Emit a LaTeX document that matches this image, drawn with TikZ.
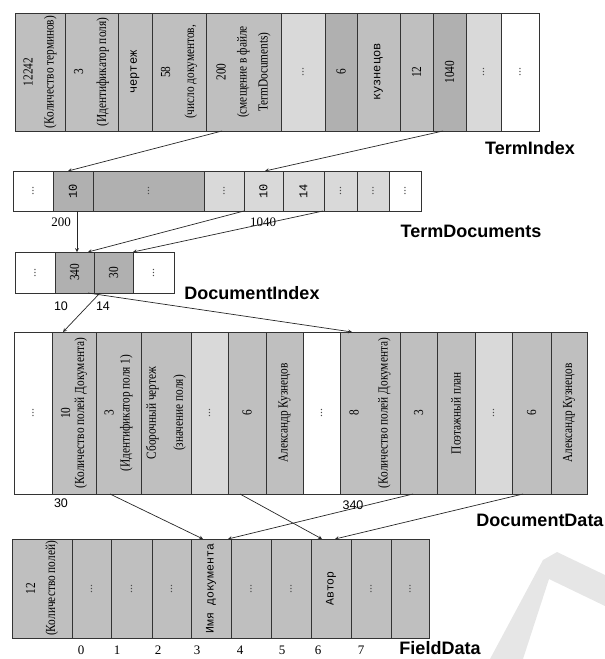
\documentclass[tikz,border=0pt]{standalone}
\usepackage{fontspec}
\setmainfont{Liberation Serif}
\setsansfont{Liberation Sans}
\newfontfamily\cellfont[FakeStretch=0.82]{Liberation Serif}
\newfontfamily\cellmono{Liberation Mono}
\usepackage{tikz}
\usetikzlibrary{calc,positioning}
\definecolor{cellg}{RGB}{191,191,191}
\definecolor{celld}{RGB}{176,176,176}
\definecolor{celll}{RGB}{217,217,217}
\definecolor{wmark}{RGB}{230,230,230}

\begin{document}
\begin{tikzpicture}[x=1pt,y=-1pt,
  cell/.style={draw=black!80,line width=0.8pt,anchor=north west,inner sep=0pt,outer sep=0pt},
  tirow/.style={cell,minimum height=118pt},
  tdrow/.style={cell,minimum height=40pt},
  dirow/.style={cell,minimum height=41pt},
  ddrow/.style={cell,minimum height=162pt},
  fdrow/.style={cell,minimum height=99pt},
  ctext/.style={rotate=90,align=center,inner sep=0pt,font=\cellfont\fontsize{13.8}{21}\selectfont},
  lsp/.style={font=\cellfont\fontsize{13.8}{#1}\selectfont},
  mtext/.style={rotate=90,inner sep=0pt,font=\cellmono\fontsize{12}{14}\selectfont},
  dots/.style={rotate=90,inner sep=0pt,text=black!70,font=\fontsize{12}{14}\selectfont},
  title/.style={inner sep=1pt,font=\sffamily\bfseries\fontsize{18}{20}\selectfont},
  numr/.style={font=\fontsize{13}{15}\selectfont},
  nums/.style={font=\sffamily\fontsize{12.5}{15}\selectfont},
  link/.style={->,>=stealth,draw=black!85,line width=0.7pt}]
\useasboundingbox (0,0) rectangle (605,659);
% watermark
\fill[wmark] (557,552) -- (605,575) -- (605,606) -- (549,579) -- (523,659) -- (490,659) -- (543,560) -- cycle;

% TermIndex
\node[tirow,fill=cellg,minimum width=50pt,label={[ctext]center:{12242\\(Количество терминов)}}] (ti1) at (15,13) {};
\node[tirow,fill=cellg,minimum width=53pt,label={[ctext,lsp=23]center:{3\\(Идентификатор поля)}}] (ti2) at (ti1.north east) {};
\node[tirow,fill=cellg,minimum width=34pt,label={[mtext]center:{чертеж}}] (ti3) at (ti2.north east) {};
\node[tirow,fill=cellg,minimum width=54pt,label={[ctext,lsp=24]center:{58\\(число документов,}}] (ti4) at (ti3.north east) {};
\node[tirow,fill=cellg,minimum width=75pt,label={[ctext]center:{200\\(смещение в файле\\TermDocuments)}}] (ti5) at (ti4.north east) {};
\node[tirow,fill=celll,minimum width=44pt,label={[dots]center:{...}}] (ti6) at (ti5.north east) {};
\node[tirow,fill=celld,minimum width=32pt,label={[ctext]center:{6}}] (ti7) at (ti6.north east) {};
\node[tirow,fill=cellg,minimum width=43pt,label={[mtext]center:{кузнецов}}] (ti8) at (ti7.north east) {};
\node[tirow,fill=cellg,minimum width=33pt,label={[ctext]center:{12}}] (ti9) at (ti8.north east) {};
\node[tirow,fill=celld,minimum width=33pt,label={[ctext]center:{1040}}] (ti10) at (ti9.north east) {};
\node[tirow,fill=celll,minimum width=35pt,label={[dots]center:{...}}] (ti11) at (ti10.north east) {};
\node[tirow,fill=white,minimum width=38pt,label={[dots]center:{...}}] (ti12) at (ti11.north east) {};
\node[title] (tiname) at (530,148) {TermIndex};

% TermDocuments
\node[tdrow,fill=white,minimum width=40pt,label={[dots]center:{...}}] (td1) at (13,171) {};
\node[tdrow,fill=celld,minimum width=40pt,label={[mtext]center:{10}}] (td2) at (td1.north east) {};
\node[tdrow,fill=celld,minimum width=111pt,label={[dots]center:{...}}] (td3) at (td2.north east) {};
\node[tdrow,fill=celll,minimum width=40pt,label={[dots]center:{...}}] (td4) at (td3.north east) {};
\node[tdrow,fill=celll,minimum width=39pt,label={[mtext]center:{10}}] (td5) at (td4.north east) {};
\node[tdrow,fill=celll,minimum width=41pt,label={[mtext]center:{14}}] (td6) at (td5.north east) {};
\node[tdrow,fill=celll,minimum width=33pt,label={[dots]center:{...}}] (td7) at (td6.north east) {};
\node[tdrow,fill=celll,minimum width=32pt,label={[dots]center:{...}}] (td8) at (td7.north east) {};
\node[tdrow,fill=white,minimum width=32pt,label={[dots]center:{...}}] (td9) at (td8.north east) {};
\node[title] (tdname) at (471,231) {TermDocuments};
\node[numr] (o200) at (61,222) {200};
\node[numr] (o1040) at (263,222) {1040};

% DocumentIndex
\node[dirow,fill=white,minimum width=40pt,label={[dots]center:{...}}] (di1) at (15,252) {};
\node[dirow,fill=celld,minimum width=39pt,label={[ctext]center:{340}}] (di2) at (di1.north east) {};
\node[dirow,fill=celld,minimum width=39pt,label={[ctext]center:{30}}] (di3) at (di2.north east) {};
\node[dirow,fill=white,minimum width=41pt,label={[dots]center:{...}}] (di4) at (di3.north east) {};
\node[title] (diname) at (252,293) {DocumentIndex};
\node[nums] (o10) at (61,306) {10};
\node[nums] (o14) at (103,306) {14};

% DocumentData
\node[ddrow,fill=white,minimum width=38pt,label={[dots]center:{...}}] (dd1) at (14,332) {};
\node[ddrow,fill=cellg,minimum width=44pt,label={[ctext,lsp=14]center:{10\\(Количество полей Документа)}}] (dd2) at (dd1.north east) {};
\node[ddrow,fill=cellg,minimum width=45pt,label={[ctext,lsp=16]center:{3\\(Идентификатор поля 1)}}] (dd3) at (dd2.north east) {};
\node[ddrow,fill=cellg,minimum width=50pt,label={[ctext,lsp=27]center:{Сборочный чертеж\\(значение поля)}}] (dd4) at (dd3.north east) {};
\node[ddrow,fill=celll,minimum width=37pt,label={[dots]center:{...}}] (dd5) at (dd4.north east) {};
\node[ddrow,fill=cellg,minimum width=38pt,label={[ctext]center:{6}}] (dd6) at (dd5.north east) {};
\node[ddrow,fill=cellg,minimum width=37pt,label={[ctext]center:{Александр Кузнецов}}] (dd7) at (dd6.north east) {};
\node[ddrow,fill=white,minimum width=37pt,label={[dots]center:{...}}] (dd8) at (dd7.north east) {};
\node[ddrow,fill=cellg,minimum width=60pt,label={[ctext,lsp=29]center:{8\\(Количество полей Документа)}}] (dd9) at (dd8.north east) {};
\node[ddrow,fill=cellg,minimum width=37pt,label={[ctext]center:{3}}] (dd10) at (dd9.north east) {};
\node[ddrow,fill=cellg,minimum width=38pt,label={[ctext]center:{Поэтажный план}}] (dd11) at (dd10.north east) {};
\node[ddrow,fill=celll,minimum width=37pt,label={[dots]center:{...}}] (dd12) at (dd11.north east) {};
\node[ddrow,fill=cellg,minimum width=39pt,label={[ctext]center:{6}}] (dd13) at (dd12.north east) {};
\node[ddrow,fill=cellg,minimum width=36pt,label={[ctext]center:{Александр Кузнецов}}] (dd14) at (dd13.north east) {};
\node[title] (ddname) at (540,520) {DocumentData};
\node[nums] (o30) at (61,503) {30};
\node[nums] (o340) at (353,505) {340};

% FieldData
\node[fdrow,fill=cellg,minimum width=60pt,label={[ctext,lsp=20]center:{12\\(Количество полей)}}] (fd1) at (12,539) {};
\node[fdrow,fill=cellg,minimum width=39pt,label={[dots]center:{...}}] (fd2) at (fd1.north east) {};
\node[fdrow,fill=cellg,minimum width=41pt,label={[dots]center:{...}}] (fd3) at (fd2.north east) {};
\node[fdrow,fill=cellg,minimum width=39pt,label={[dots]center:{...}}] (fd4) at (fd3.north east) {};
\node[fdrow,fill=cellg,minimum width=40pt,label={[mtext,font=\cellmono\fontsize{11.5}{13}\selectfont]center:{Имя документа}}] (fd5) at (fd4.north east) {};
\node[fdrow,fill=cellg,minimum width=40pt,label={[dots]center:{...}}] (fd6) at (fd5.north east) {};
\node[fdrow,fill=cellg,minimum width=40pt,label={[dots]center:{...}}] (fd7) at (fd6.north east) {};
\node[fdrow,fill=cellg,minimum width=40pt,label={[mtext,font=\cellmono\fontsize{11.5}{13}\selectfont]center:{Автор}}] (fd8) at (fd7.north east) {};
\node[fdrow,fill=cellg,minimum width=40pt,label={[dots]center:{...}}] (fd9) at (fd8.north east) {};
\node[fdrow,fill=cellg,minimum width=38pt,label={[dots]center:{...}}] (fd10) at (fd9.north east) {};
\node[title] (fdname) at (440,648) {FieldData};
\node[numr] (f0) at (81,650) {0};
\node[numr] (f1) at (117,650) {1};
\node[numr] (f2) at (158,650) {2};
\node[numr] (f3) at (197,650) {3};
\node[numr] (f4) at (240,650) {4};
\node[numr] (f5) at (282,650) {5};
\node[numr] (f6) at (318,650) {6};
\node[numr] (f7) at (361,650) {7};

% links
\draw[link] ($(ti5.south west)+(16,0)$) -- ($(td2.north west)+(15,0)$);
\draw[link] ($(ti10.south west)+(10,0)$) -- ($(td5.north west)+(21,0)$);
\draw[link] ($(td2.south west)+(24,0)$) -- ($(di2.north west)+(22,0)$);
\draw[link] (td5.south west) -- ($(di2.north west)+(33,0)$);
\draw[link] ($(td6.south east)+(-1,0)$) -- (di3.north east);
\draw[link] ($(di3.south west)+(6,0)$) -- ($(dd2.north west)+(11,0)$);
\draw[link] ($(di2.south west)+(33,0)$) -- ($(dd9.north west)+(12,0)$);
\draw[link] ($(dd3.south west)+(14,0)$) -- ($(fd5.north west)+(12,0)$);
\draw[link] ($(dd6.south west)+(12,0)$) -- ($(fd8.north west)+(11,0)$);
\draw[link] ($(dd10.south west)+(13,0)$) -- ($(fd5.north west)+(37,0)$);
\draw[link] ($(dd13.south west)+(11,0)$) -- ($(fd8.north west)+(24,0)$);
\end{tikzpicture}
\end{document}
